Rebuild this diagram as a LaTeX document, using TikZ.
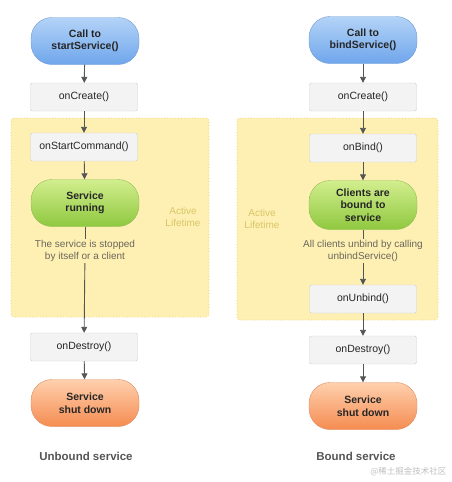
\documentclass[tikz,border=0pt]{standalone}
\usepackage{fontspec}
\setmainfont{Liberation Sans}
\newfontfamily\cjkfont{Noto Sans CJK SC}
\usetikzlibrary{arrows.meta}
\definecolor{bluetop}{HTML}{B4D4F7}
\definecolor{bluebot}{HTML}{6FA5EC}
\definecolor{blueline}{HTML}{6E9BD3}
\definecolor{greentop}{HTML}{D2EE8E}
\definecolor{greenbot}{HTML}{8FC83F}
\definecolor{greenline}{HTML}{93BC55}
\definecolor{orangetop}{HTML}{FFD0AE}
\definecolor{orangebot}{HTML}{F58C51}
\definecolor{orangeline}{HTML}{DE8A5C}
\definecolor{boxfill}{HTML}{F3F3F3}
\definecolor{boxline}{HTML}{CFCFCF}
\definecolor{yfill}{HTML}{FEF0B3}
\definecolor{yline}{HTML}{E8D27A}
\definecolor{activec}{HTML}{D8C667}
\definecolor{arrowc}{HTML}{555555}
\definecolor{notec}{HTML}{6A665C}
\definecolor{capc}{HTML}{555555}
\tikzset{
  pill/.style={rounded corners=21pt, minimum width=108pt, minimum height=47pt,
    align=center, font=\fontsize{10.5}{12.5}\selectfont\bfseries, text=black!85, inner sep=0pt},
  bluepill/.style={pill, draw=blueline, top color=bluetop, bottom color=bluebot},
  greenpill/.style={pill, draw=greenline, top color=greentop, bottom color=greenbot},
  orangepill/.style={pill, draw=orangeline, top color=orangetop, bottom color=orangebot},
  cbox/.style={draw=boxline, fill=boxfill, minimum width=107pt, minimum height=28pt,
    inner sep=0pt, font=\fontsize{10.5}{12.5}\selectfont, text=black!85, rounded corners=1.5pt},
  region/.style={draw=yline, fill=yfill, dotted, line width=0.8pt, rounded corners=3pt},
  note/.style={align=center, font=\fontsize{10}{12.5}\selectfont, text=notec, inner sep=1pt},
  active/.style={align=center, font=\fontsize{10}{12.5}\selectfont, text=activec},
  caption/.style={font=\fontsize{11.5}{14}\selectfont\bfseries, text=capc},
  conn/.style={draw=arrowc, line width=0.9pt, -{Triangle[length=6pt,width=6pt]}},
  plain/.style={draw=arrowc, line width=0.9pt}
}
\begin{document}
\begin{tikzpicture}[x=1pt,y=-1pt]
\useasboundingbox (0,0) rectangle (452,482);
% regions
\path[region] (11,118) rectangle (209,317);
\path[region] (237,118) rectangle (438,320);
% left column
\node[bluepill] (ls) at (85,41) {Call to\\startService()};
\node[cbox] (lc) at (84,97) {onCreate()};
\node[cbox] (lsc) at (84,147) {onStartCommand()};
\node[greenpill] (lr) at (85,203) {Service\\running};
\node[note] (ln) at (85,251) {The service is stopped\\by itself or a client};
\node[cbox] (ld) at (84,347) {onDestroy()};
\node[orangepill] (lx) at (85,403) {Service\\shut down};
\node[active] (la) at (183,217) {Active\\Lifetime};
\node[caption] (lcap) at (86,456) {Unbound service};
\draw[conn] (ls) -- (lc);
\draw[conn] (lc) -- (lsc);
\draw[conn] (lsc) -- (lr);
\draw[plain] (lr) -- (ln);
\draw[conn] (ln) -- (ld);
\draw[conn] (ld) -- (lx);
% right column
\node[bluepill] (rs) at (363,40) {Call to\\bindService()};
\node[cbox] (rc) at (363,97) {onCreate()};
\node[cbox] (rb) at (363,148) {onBind()};
\node[greenpill, minimum height=49pt] (rr) at (363,205) {Clients are\\bound to\\service};
\node[note] (rn) at (363,251) {All clients unbind by calling\\unbindService()};
\node[cbox] (ru) at (363,299) {onUnbind()};
\node[cbox] (rd) at (363,350) {onDestroy()};
\node[orangepill] (rx) at (363,406) {Service\\shut down};
\node[active] (ra) at (262,219) {Active\\Lifetime};
\node[caption] (rcap) at (356,456) {Bound service};
\draw[conn] (rs) -- (rc);
\draw[conn] (rc) -- (rb);
\draw[conn] (rb) -- (rr);
\draw[plain] (rr) -- (rn);
\draw[conn] (rn) -- (ru);
\draw[conn] (ru) -- (rd);
\draw[conn] (rd) -- (rx);
% watermark
\node[font=\cjkfont\fontsize{8.5}{10}\selectfont, text=black!25, anchor=east] (wm) at (450,472) {@稀土掘金技术社区};
\end{tikzpicture}
\end{document}
